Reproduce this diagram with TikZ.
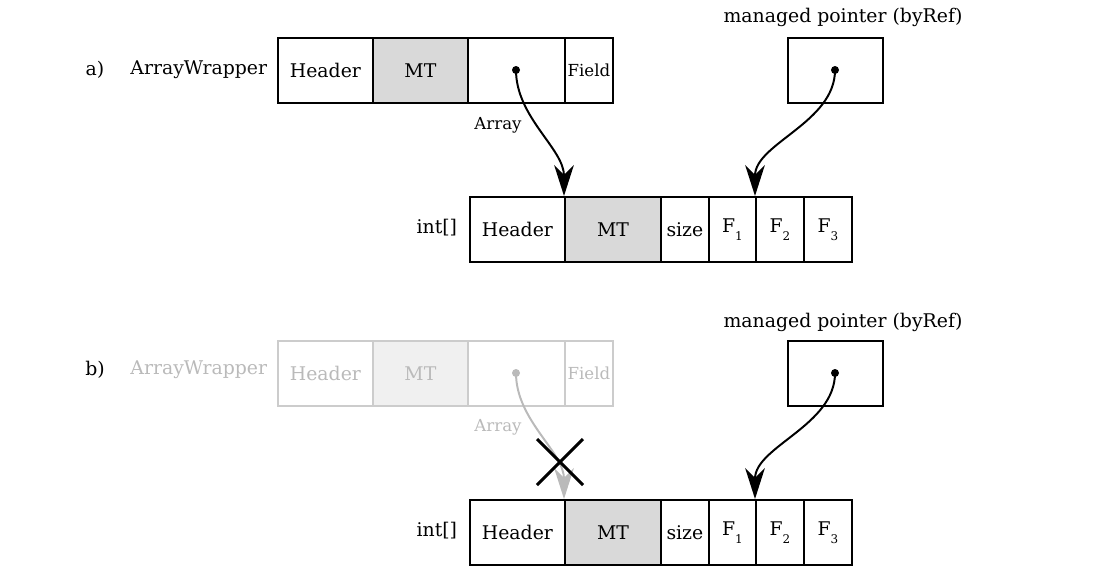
\documentclass[tikz,border=0pt]{standalone}
\usepackage{fontspec}
\setmainfont{DejaVu Serif}
\usepackage{tikz}
\usetikzlibrary{arrows.meta, calc}

\newcommand{\fsub}[1]{F\raisebox{-0.8ex}{\fontsize{8.5}{9}\selectfont #1}}

\tikzset{
  cell/.style={draw, line width=1.3pt, anchor=north west, inner sep=0pt,
    minimum height=1.625cm, font=\fontsize{13.4}{15}\selectfont},
  mtcell/.style={cell, fill=black!15},
  faded/.style={draw=black!20, text=black!27},
  lbl/.style={font=\fontsize{13.4}{15}\selectfont},
  small/.style={font=\fontsize{11.8}{13}\selectfont},
  ptr/.style={line width=1.4pt, -{Stealth[length=22pt, width=14pt, inset=7pt]}}
}

\begin{document}
\begin{tikzpicture}[x=0.025cm, y=-0.025cm]
\useasboundingbox (0,0) rectangle (1105,580);

% a) wrapper still alive
\node[lbl] (alabel) at (95,70) {a)};
\node[lbl, anchor=east] (awrap) at (272,70) {ArrayWrapper};
\node[cell, minimum width=2.375cm] (aHead) at (277,37) {Header};
\node[mtcell, minimum width=2.375cm] (aMT) at (372,37) {MT};
\node[cell, minimum width=2.425cm] (aPtr) at (467,37) {};
\node[cell, minimum width=1.2cm, small] (aField) at (564,37) {Field};
\coordinate (aDot) at (516,70);
\fill (aDot) circle (4);
\node[small] (aArr) at (498,125) {Array};

\node[lbl] (amp) at (843,17) {managed pointer (byRef)};
\node[cell, minimum width=2.375cm] (aRef) at (787,37) {};
\coordinate (aRefDot) at (835,70);
\fill (aRefDot) circle (4);

\node[lbl, anchor=east] (aint) at (462,228) {int[]};
\node[cell, minimum width=2.375cm] (iaHead) at (469,196) {Header};
\node[mtcell, minimum width=2.4cm] (iaMT) at (564,196) {MT};
\node[cell, minimum width=1.2cm] (iaSize) at (660,196) {size};
\node[cell, minimum width=1.175cm] (iaF1) at (708,196) {\fsub{1}};
\node[cell, minimum width=1.2cm] (iaF2) at (755,196) {\fsub{2}};
\node[cell, minimum width=1.2cm] (iaF3) at (803,196) {\fsub{3}};

\draw[ptr] (aDot) to[out=-90, in=90, looseness=0.9] (iaMT.north west);
\draw[ptr] (aRefDot) to[out=-90, in=90, looseness=0.9] (iaF2.north west);

% b) wrapper gone
\node[lbl] (blabel) at (95,370) {b)};
\node[lbl, anchor=east, text=black!27] (bwrap) at (272,370) {ArrayWrapper};
\node[cell, faded, minimum width=2.375cm] (bHead) at (277,340) {Header};
\node[cell, faded, fill=black!6, minimum width=2.375cm] (bMT) at (372,340) {MT};
\node[cell, faded, minimum width=2.425cm] (bPtr) at (467,340) {};
\node[cell, faded, minimum width=1.2cm, small] (bField) at (564,340) {Field};
\coordinate (bDot) at (516,373);
\fill[black!27] (bDot) circle (4);
\node[small, text=black!27] (bArr) at (498,427) {Array};

\node[lbl] (bmp) at (843,322) {managed pointer (byRef)};
\node[cell, minimum width=2.375cm] (bRef) at (787,340) {};
\coordinate (bRefDot) at (835,373);
\fill (bRefDot) circle (4);

\node[lbl, anchor=east] (bint) at (462,531) {int[]};
\node[cell, minimum width=2.375cm] (ibHead) at (469,499) {Header};
\node[mtcell, minimum width=2.4cm] (ibMT) at (564,499) {MT};
\node[cell, minimum width=1.2cm] (ibSize) at (660,499) {size};
\node[cell, minimum width=1.175cm] (ibF1) at (708,499) {\fsub{1}};
\node[cell, minimum width=1.2cm] (ibF2) at (755,499) {\fsub{2}};
\node[cell, minimum width=1.2cm] (ibF3) at (803,499) {\fsub{3}};

\draw[ptr, black!27] (bDot) to[out=-90, in=90, looseness=0.9] (ibMT.north west);
\draw[ptr] (bRefDot) to[out=-90, in=90, looseness=0.9] (ibF2.north west);

\coordinate (cross) at (560,462);
\draw[line width=2.2pt] ($(cross)+(-23,-23)$) -- ($(cross)+(23,23)$);
\draw[line width=2.2pt] ($(cross)+(-23,23)$) -- ($(cross)+(23,-23)$);
\end{tikzpicture}
\end{document}
